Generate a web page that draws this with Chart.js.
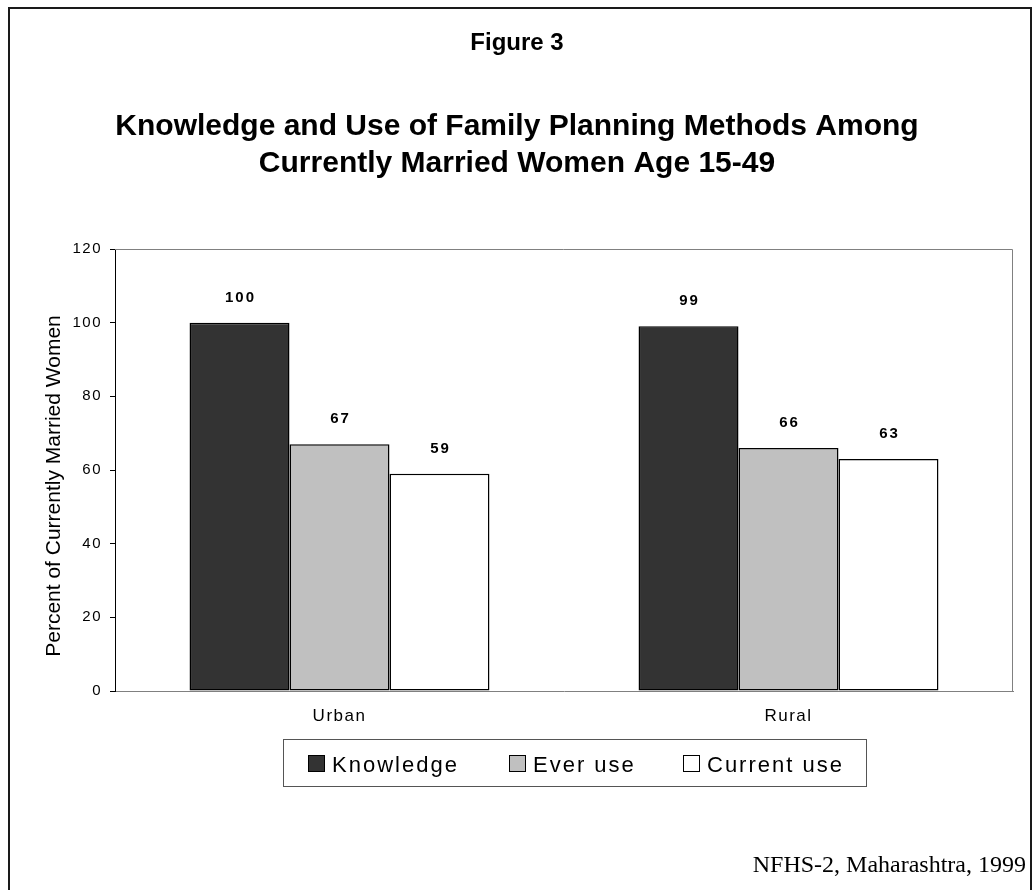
<!DOCTYPE html>
<html>
<head>
<meta charset="utf-8">
<script src="https://cdn.jsdelivr.net/npm/chart.js@4.4.1/dist/chart.umd.min.js"></script>
<style>
  html, body { margin: 0; padding: 0; background: #ffffff; }
  #wrap { width: 1034px; height: 890px; position: relative; }
</style>
</head>
<body>
<div id="wrap"><canvas id="c" width="1034" height="890"></canvas></div>
<script>
// ---- data ----
const categories = ['Urban', 'Rural'];
const seriesNames = ['Knowledge', 'Ever use', 'Current use'];
const knowledge = [100, 99];
const everUse = [67, 66];
const currentUse = [59, 63];
const yTickValues = [0, 20, 40, 60, 80, 100, 120];

// ---- text ----
const figureLabel = 'Figure 3';
const titleLines = [
  'Knowledge and Use of Family Planning Methods Among',
  'Currently Married Women Age 15-49'
];
const yAxisTitle = 'Percent of Currently Married Women';
const sourceNote = 'NFHS-2, Maharashtra, 1999';

// ---- styling ----
const fills = ['#333333', '#c0c0c0', '#ffffff'];
const SANS = 'Arial, "Liberation Sans", Helvetica, sans-serif';
const SERIF = '"Times New Roman", "Liberation Serif", Times, serif';

// Wider tracking for the axis tick text
const trackingPlugin = {
  id: 'tracking',
  beforeDraw(chart) { chart.ctx.letterSpacing = '1.5px'; }
};

// Grey frame on top and right of the plot area
const framePlugin = {
  id: 'frame',
  beforeDatasetsDraw(chart) {
    const { ctx, chartArea: a } = chart;
    ctx.save();
    ctx.strokeStyle = '#808080';
    ctx.lineWidth = 1;
    ctx.beginPath();
    ctx.moveTo(a.left, a.top + 0.5);
    ctx.lineTo(a.right - 0.5, a.top + 0.5);
    ctx.lineTo(a.right - 0.5, a.bottom);
    ctx.stroke();
    ctx.restore();
  }
};

// Value labels above every bar
const valueLabels = {
  id: 'valueLabels',
  afterDatasetsDraw(chart) {
    const ctx = chart.ctx;
    ctx.save();
    ctx.letterSpacing = '2px';
    ctx.font = 'bold 15px ' + SANS;
    ctx.fillStyle = '#000';
    ctx.textAlign = 'center';
    ctx.textBaseline = 'alphabetic';
    chart.data.datasets.forEach((ds, di) => {
      const meta = chart.getDatasetMeta(di);
      meta.data.forEach((bar, i) => {
        ctx.fillText(String(ds.data[i]), bar.x + 1, bar.y - 21);
      });
    });
    ctx.restore();
  }
};

// Headings, axis title, legend box, source note and outer border
const decorations = {
  id: 'decorations',
  afterDraw(chart) {
    const ctx = chart.ctx;
    ctx.save();
    ctx.letterSpacing = '0px';
    ctx.fillStyle = '#000';

    // outer border
    ctx.strokeStyle = '#1a1a1a';
    ctx.lineWidth = 2;
    ctx.strokeRect(9, 8, 1022, 900);

    // headings
    ctx.textAlign = 'center';
    ctx.textBaseline = 'alphabetic';
    ctx.font = 'bold 24px ' + SANS;
    ctx.fillText(figureLabel, 517, 50);
    ctx.font = 'bold 30px ' + SANS;
    ctx.fillText(titleLines[0], 517, 135);
    ctx.fillText(titleLines[1], 517, 172);

    // y-axis title
    ctx.save();
    ctx.translate(54, 486);
    ctx.rotate(-Math.PI / 2);
    ctx.font = '21px ' + SANS;
    ctx.textBaseline = 'middle';
    ctx.fillText(yAxisTitle, 0, 0);
    ctx.restore();

    // legend
    ctx.strokeStyle = '#555555';
    ctx.lineWidth = 1;
    ctx.strokeRect(283.5, 739.5, 583, 47);
    const itemX = [308, 509, 683];
    ctx.font = '22px ' + SANS;
    ctx.letterSpacing = '2px';
    ctx.textAlign = 'left';
    chart.data.datasets.forEach((ds, i) => {
      ctx.fillStyle = ds.backgroundColor;
      ctx.fillRect(itemX[i], 755, 17, 17);
      ctx.strokeStyle = '#000';
      ctx.strokeRect(itemX[i] + 0.5, 755.5, 16, 16);
      ctx.fillStyle = '#000';
      ctx.fillText(ds.label, itemX[i] + 24, 772);
    });

    // source note
    ctx.letterSpacing = '0px';
    ctx.font = '24px ' + SERIF;
    ctx.textAlign = 'right';
    ctx.fillText(sourceNote, 1026, 872);
    ctx.restore();
  }
};

const seriesValues = [knowledge, everUse, currentUse];

new Chart(document.getElementById('c'), {
  type: 'bar',
  data: {
    labels: categories,
    datasets: seriesNames.map((name, i) => ({
      label: name,
      data: seriesValues[i],
      backgroundColor: fills[i],
      borderColor: '#000000',
      borderWidth: 1.5,
      borderSkipped: false,
      categoryPercentage: 0.668,
      barPercentage: 1.0
    }))
  },
  options: {
    responsive: false,
    animation: false,
    devicePixelRatio: 1,
    layout: { padding: { left: 0, top: 249, right: 21, bottom: 159 } },
    plugins: {
      legend: { display: false },
      tooltip: { enabled: false },
      title: { display: false }
    },
    scales: {
      x: {
        type: 'category',
        offset: true,
        grid: { display: false, drawTicks: false },
        border: { display: true, color: '#808080', width: 1 },
        ticks: { color: '#000', font: { family: SANS, size: 17 }, padding: 15, maxRotation: 0 },
        afterFit(scale) { scale.height = 40; }
      },
      y: {
        min: 0,
        max: 120,
        afterBuildTicks(scale) { scale.ticks = yTickValues.map(v => ({ value: v })); },
        grid: { drawOnChartArea: false, drawTicks: true, tickLength: 5, color: '#000' },
        border: { display: true, color: '#000', width: 1 },
        ticks: { color: '#000', font: { family: SANS, size: 15 }, padding: 8 },
        afterFit(scale) { scale.width = 115; }
      }
    }
  },
  plugins: [trackingPlugin, framePlugin, valueLabels, decorations]
});
</script>
</body>
</html>
